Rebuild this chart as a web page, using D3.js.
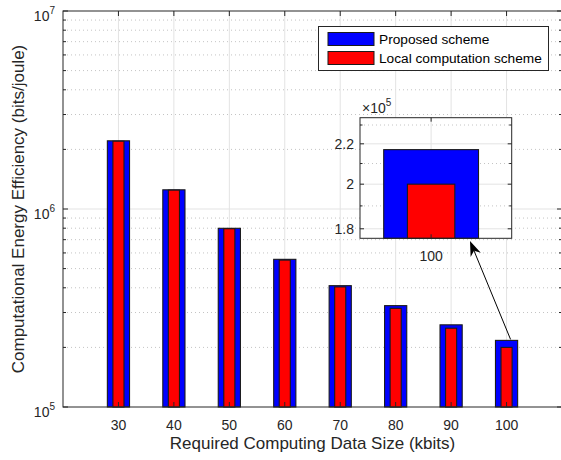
<!DOCTYPE html>
<html>
<head>
<meta charset="utf-8">
<script src="https://cdn.jsdelivr.net/npm/d3@7"></script>
<style>
  html, body { margin: 0; padding: 0; background: #fff; }
  svg { display: block; font-family: "Liberation Sans", Arial, Helvetica, sans-serif; }
</style>
</head>
<body>
<div id="chart"></div>
<script>
// data
const sizes = [30, 40, 50, 60, 70, 80, 90, 100];
const proposed = [2.21e6, 1.25e6, 7.99e5, 5.57e5, 4.10e5, 3.25e5, 2.60e5, 2.17e5];
const local = [2.20e6, 1.245e6, 7.95e5, 5.52e5, 4.04e5, 3.15e5, 2.50e5, 2.00e5];
const seriesNames = ["Proposed scheme", "Local computation scheme"];
const seriesColors = ["#0000ff", "#ff0000"];
const yTickExps = [5, 6, 7];
const insetYTicks = [1.8, 2, 2.2];
const insetYMinor = [1.9, 2.1, 2.3];

const W = 561, H = 460;
const axisColor = "#262626";
const gridColor = "#e3e3e3";
const dotColor = "#c4c4c4";
const tickFont = 14;

const svg = d3.select("#chart").append("svg")
    .attr("width", W)
    .attr("height", H);

// main axes
const plot = {left: 63, right: 562, top: 11, bottom: 407};
const x = d3.scaleLinear().domain([20, 110]).range([plot.left, plot.right]);
const y = d3.scaleLog().domain([1e5, 1e7]).range([plot.bottom, plot.top]);

const minorVals = [];
[1e5, 1e6].forEach(d => { for (let k = 2; k <= 9; k++) minorVals.push(k * d); });

// grid
const grid = svg.append("g");
grid.selectAll(".minor").data(minorVals).enter().append("line")
    .attr("x1", plot.left).attr("x2", plot.right)
    .attr("y1", d => y(d)).attr("y2", d => y(d))
    .attr("stroke", dotColor).attr("stroke-width", 1)
    .attr("stroke-dasharray", "1,3");
grid.selectAll(".vx").data(sizes).enter().append("line")
    .attr("x1", d => x(d)).attr("x2", d => x(d))
    .attr("y1", plot.top).attr("y2", plot.bottom)
    .attr("stroke", gridColor).attr("stroke-width", 1);
grid.append("line")
    .attr("x1", plot.left).attr("x2", plot.right)
    .attr("y1", y(1e6)).attr("y2", y(1e6))
    .attr("stroke", gridColor).attr("stroke-width", 1);

// bars
const blueW = 4, redW = 2;
function drawBars(g, xs, ys, w, vals, color) {
  g.selectAll(null).data(vals).enter().append("rect")
      .attr("x", (d, i) => xs(sizes[i] - w / 2))
      .attr("width", (d, i) => xs(sizes[i] + w / 2) - xs(sizes[i] - w / 2))
      .attr("y", d => ys(d))
      .attr("height", d => ys.range()[0] - ys(d))
      .attr("fill", color)
      .attr("stroke", "#1a1a1a").attr("stroke-width", 1.1);
}
const bars = svg.append("g");
drawBars(bars, x, y, blueW, proposed, seriesColors[0]);
drawBars(bars, x, y, redW, local, seriesColors[1]);

// axis box + ticks
const ax = svg.append("g");
ax.append("rect")
    .attr("x", plot.left).attr("y", plot.top)
    .attr("width", plot.right - plot.left).attr("height", plot.bottom - plot.top)
    .attr("fill", "none").attr("stroke", axisColor).attr("stroke-width", 1);
ax.selectAll(".xt").data(sizes).enter().append("path")
    .attr("d", d => `M${x(d)},${plot.bottom}v-5M${x(d)},${plot.top}v5`)
    .attr("stroke", axisColor);
ax.selectAll(".yt").data(yTickExps).enter().append("path")
    .attr("d", d => `M${plot.left},${y(Math.pow(10, d))}h5M${plot.right},${y(Math.pow(10, d))}h-5`)
    .attr("stroke", axisColor);
ax.selectAll(".ymt").data(minorVals).enter().append("path")
    .attr("d", d => `M${plot.left},${y(d)}h3M${plot.right},${y(d)}h-3`)
    .attr("stroke", axisColor);

ax.selectAll(".xl").data(sizes).enter().append("text")
    .attr("x", d => x(d)).attr("y", plot.bottom + 23)
    .attr("text-anchor", "middle")
    .attr("font-size", tickFont).attr("fill", axisColor)
    .text(d => d);

const yl = ax.selectAll(".yl").data(yTickExps).enter().append("text")
    .attr("x", plot.left - 8).attr("y", d => y(Math.pow(10, d)) + 10)
    .attr("text-anchor", "end")
    .attr("font-size", tickFont).attr("fill", axisColor);
yl.append("tspan").text("10");
yl.append("tspan").attr("dy", -7).attr("font-size", 10).text(d => d);

svg.append("text")
    .attr("x", (plot.left + plot.right) / 2).attr("y", 449)
    .attr("text-anchor", "middle")
    .attr("font-size", 17).attr("fill", axisColor)
    .text("Required Computing Data Size (kbits)");
svg.append("text")
    .attr("transform", `translate(24,${(plot.top + plot.bottom) / 2}) rotate(-90)`)
    .attr("text-anchor", "middle")
    .attr("font-size", 17).attr("fill", axisColor)
    .text("Computational Energy Efficiency (bits/joule)");

// legend
const lg = svg.append("g");
lg.append("rect")
    .attr("x", 318.5).attr("y", 26.5).attr("width", 230).attr("height", 44)
    .attr("fill", "#fff").attr("stroke", axisColor).attr("stroke-width", 1);
seriesNames.forEach((name, i) => {
  const yy = 32.5 + i * 19;
  lg.append("rect")
      .attr("x", 328).attr("y", yy).attr("width", 46).attr("height", 13)
      .attr("fill", seriesColors[i]).attr("stroke", "#1a1a1a").attr("stroke-width", 1);
  lg.append("text")
      .attr("x", 379).attr("y", yy + 11.5)
      .attr("font-size", 13.7).attr("fill", "#000")
      .text(name);
});

// arrow from last bar to inset
const tipX = 470, tipY = 241;
const fromX = x(100) + 4, fromY = y(proposed[7]) - 1;
const ang = Math.atan2(tipY - fromY, tipX - fromX);
const hl = 15, hw = 5.5;
const bx = tipX - hl * Math.cos(ang), by = tipY - hl * Math.sin(ang);
const nx = -Math.sin(ang), ny = Math.cos(ang);
const ix = tipX - hl * 0.7 * Math.cos(ang), iy = tipY - hl * 0.7 * Math.sin(ang);
svg.append("line")
    .attr("x1", fromX).attr("y1", fromY).attr("x2", ix).attr("y2", iy)
    .attr("stroke", "#000").attr("stroke-width", 1);
svg.append("path")
    .attr("d", `M${tipX},${tipY}L${bx + nx * hw},${by + ny * hw}L${ix},${iy}L${bx - nx * hw},${by - ny * hw}Z`)
    .attr("fill", "#000");

// inset
const ins = {left: 360, right: 511.7, top: 117.7, bottom: 238.3};
const xi = d3.scaleLinear().domain([97, 103.4]).range([ins.left, ins.right]);
const yi = d3.scaleLog().domain([1.76e5, 2.34e5]).range([ins.bottom, ins.top]);
const inset = svg.append("g");
inset.append("rect")
    .attr("x", ins.left).attr("y", ins.top)
    .attr("width", ins.right - ins.left).attr("height", ins.bottom - ins.top)
    .attr("fill", "#fff");
inset.selectAll(".im").data(insetYMinor).enter().append("line")
    .attr("x1", ins.left).attr("x2", ins.right)
    .attr("y1", d => yi(d * 1e5)).attr("y2", d => yi(d * 1e5))
    .attr("stroke", dotColor).attr("stroke-dasharray", "1,3");
inset.selectAll(".ig").data(insetYTicks).enter().append("line")
    .attr("x1", ins.left).attr("x2", ins.right)
    .attr("y1", d => yi(d * 1e5)).attr("y2", d => yi(d * 1e5))
    .attr("stroke", gridColor);
inset.append("line")
    .attr("x1", xi(100)).attr("x2", xi(100))
    .attr("y1", ins.top).attr("y2", ins.bottom)
    .attr("stroke", gridColor);

const insetBars = inset.append("g");
insetBars.append("rect")
    .attr("x", xi(100 - blueW / 2)).attr("width", xi(100 + blueW / 2) - xi(100 - blueW / 2))
    .attr("y", yi(proposed[7])).attr("height", ins.bottom - yi(proposed[7]))
    .attr("fill", seriesColors[0]).attr("stroke", "#1a1a1a").attr("stroke-width", 1.1);
insetBars.append("rect")
    .attr("x", xi(100 - redW / 2)).attr("width", xi(100 + redW / 2) - xi(100 - redW / 2))
    .attr("y", yi(local[7])).attr("height", ins.bottom - yi(local[7]))
    .attr("fill", seriesColors[1]).attr("stroke", "#1a1a1a").attr("stroke-width", 1.1);

inset.append("rect")
    .attr("x", ins.left).attr("y", ins.top)
    .attr("width", ins.right - ins.left).attr("height", ins.bottom - ins.top)
    .attr("fill", "none").attr("stroke", axisColor);
inset.selectAll(".iyt").data(insetYTicks).enter().append("path")
    .attr("d", d => `M${ins.left},${yi(d * 1e5)}h4M${ins.right},${yi(d * 1e5)}h-4`)
    .attr("stroke", axisColor);
inset.selectAll(".iymt").data(insetYMinor).enter().append("path")
    .attr("d", d => `M${ins.left},${yi(d * 1e5)}h2.5M${ins.right},${yi(d * 1e5)}h-2.5`)
    .attr("stroke", axisColor);
inset.append("path")
    .attr("d", `M${xi(100)},${ins.top}v4M${xi(100)},${ins.bottom}v-4`)
    .attr("stroke", axisColor);
inset.selectAll(".iyl").data(insetYTicks).enter().append("text")
    .attr("x", ins.left - 6).attr("y", d => yi(d * 1e5) + 5)
    .attr("text-anchor", "end")
    .attr("font-size", tickFont).attr("fill", axisColor)
    .text(d => d);
inset.append("text")
    .attr("x", xi(100)).attr("y", ins.bottom + 23)
    .attr("text-anchor", "middle")
    .attr("font-size", tickFont).attr("fill", axisColor)
    .text("100");
const mult = inset.append("text")
    .attr("x", ins.left + 2).attr("y", ins.top - 5)
    .attr("font-size", tickFont).attr("fill", axisColor);
mult.append("tspan").text("\u00d710");
mult.append("tspan").attr("dy", -7).attr("font-size", 10).text("5");
</script>
</body>
</html>
